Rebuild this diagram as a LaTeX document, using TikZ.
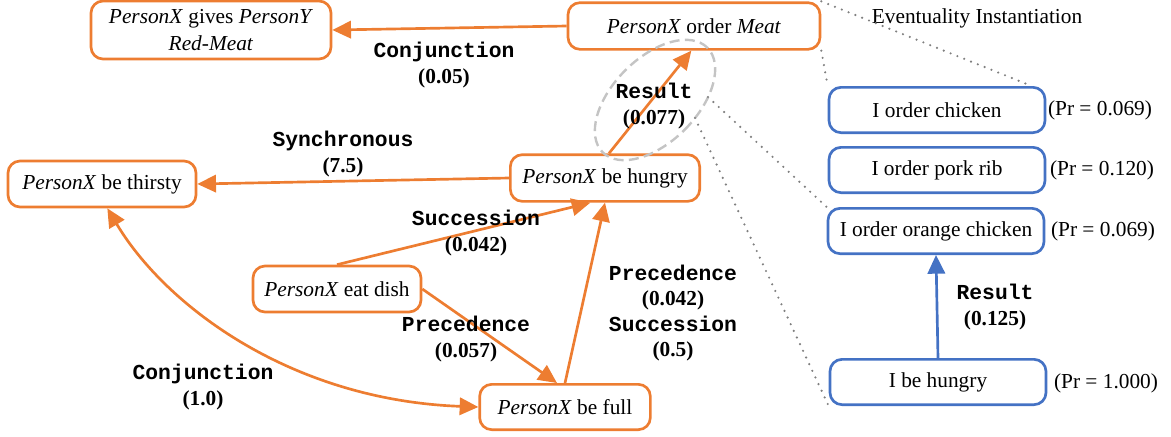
\documentclass[tikz,border=0pt]{standalone}
\usepackage{fontspec}
\setmainfont{Liberation Serif}
\setmonofont{Liberation Mono}
\usetikzlibrary{arrows.meta}
\definecolor{orng}{HTML}{ED7D31}
\definecolor{blu}{HTML}{4472C4}
\definecolor{elgray}{HTML}{C4C4C4}
\definecolor{dotgray}{HTML}{7F7F7F}
\begin{document}
\begin{tikzpicture}[x=0.75pt,y=-0.75pt,
  ob/.style={draw=orng, line width=2pt, rounded corners=9pt, inner sep=0pt, align=center, font=\fontsize{16}{20}\selectfont},
  bb/.style={draw=blu, line width=2pt, rounded corners=9pt, inner sep=0pt, align=center, minimum width=162pt, minimum height=34pt, font=\fontsize{16}{20}\selectfont},
  lab/.style={inner sep=0pt, align=center, font=\fontsize{16}{19}\selectfont},
  oarr/.style={draw=orng, line width=2pt, -{Triangle[length=14pt,width=13pt]}},
  barr/.style={draw=blu, line width=2pt, -{Triangle[length=14pt,width=13pt]}},
  dotl/.style={draw=dotgray, line width=1.8pt, line cap=round, dash pattern=on 0pt off 5.5pt}]
\useasboundingbox (0,0) rectangle (1171,436);

% orange nodes
\node[ob, minimum width=180pt, minimum height=43.5pt] (n1) at (211,30) {\textit{PersonX} gives \textit{PersonY}\\\textit{Red-Meat}};
\node[ob, minimum width=189pt, minimum height=35pt] (n2) at (694,26) {\textit{PersonX} order \textit{Meat}};
\node[ob, minimum width=141pt, minimum height=34.5pt] (n3) at (102,184) {\textit{PersonX} be thirsty};
\node[ob, minimum width=142pt, minimum height=35pt] (n4) at (605,178) {\textit{PersonX} be hungry};
\node[ob, minimum width=126pt, minimum height=34.5pt] (n5) at (337,289) {\textit{PersonX} eat dish};
\node[ob, minimum width=128pt, minimum height=34pt] (n6) at (565,407) {\textit{PersonX} be full};

% blue nodes
\node[bb] (b1) at (937,110) {I order chicken};
\node[bb] (b2) at (937,170) {I order pork rib};
\node[bb] (b3) at (936,231) {I order orange chicken};
\node[bb] (b4) at (938,382) {I be hungry};

\node[lab] (p1) at (1100,110) {(Pr = 0.069)};
\node[lab] (p2) at (1102,170) {(Pr = 0.120)};
\node[lab] (p3) at (1103,231) {(Pr = 0.069)};
\node[lab] (p4) at (1106,383) {(Pr = 1.000)};
\node[lab] (ei) at (977,18) {Eventuality Instantiation};

% dashed ellipse
\begin{scope}[shift={(655,100)}, rotate=-45]
\draw[elgray, line width=1.8pt, dash pattern=on 7.5pt off 4pt] (0,0) ellipse [x radius=31.5pt, y radius=55.5pt];
\end{scope}
\coordinate (e1) at (708,97);
\coordinate (e2) at (695,118);

% dotted instantiation lines
\draw[dotl] (n2.north east) -- ([xshift=-11pt]b1.north east);
\draw[dotl] (n2.south east) -- (b1.north west);
\draw[dotl] (e1) -- (b3.north west);
\draw[dotl] (e2) -- (b4.south west);

% orange connectors
\draw[oarr] (n2.west) -- (n1.east);
\draw[oarr] (n4.west) -- (n3.east);
\draw[oarr] ([xshift=3pt]n4.north) -- ([xshift=-2pt]n2.south);
\draw[oarr] (n5.north) -- ([xshift=-11pt]n4.south);
\draw[oarr] (n5.east) -- ([xshift=-6pt]n6.north);
\draw[oarr] (n6.north) -- (n4.south);
\draw[draw=orng, line width=2pt, {Triangle[length=14pt,width=13pt]}-{Triangle[length=14pt,width=13pt]}]
  ([xshift=4pt]n3.south) .. controls (165,305) and (290,400) .. (n6.west);

% blue connector
\draw[barr] (b4.north) -- (b3.south);

% edge labels
\node[lab] (l1) at (444,65) {\texttt{\textbf{Conjunction}}\\\textbf{(0.05)}};
\node[lab] (l2) at (343,154) {\texttt{\textbf{Synchronous}}\\\textbf{(7.5)}};
\node[lab] (l3) at (654,106) {\texttt{\textbf{Result}}\\\textbf{(0.077)}};
\node[lab] (l4) at (476,233) {\texttt{\textbf{Succession}}\\\textbf{(0.042)}};
\node[lab] (l5) at (466,339) {\texttt{\textbf{Precedence}}\\\textbf{(0.057)}};
\node[lab] (l6) at (673,313) {\texttt{\textbf{Precedence}}\\\textbf{(0.042)}\\\texttt{\textbf{Succession}}\\\textbf{(0.5)}};
\node[lab] (l7) at (203,387) {\texttt{\textbf{Conjunction}}\\\textbf{(1.0)}};
\node[lab] (l8) at (995,307) {\texttt{\textbf{Result}}\\\textbf{(0.125)}};
\end{tikzpicture}
\end{document}
